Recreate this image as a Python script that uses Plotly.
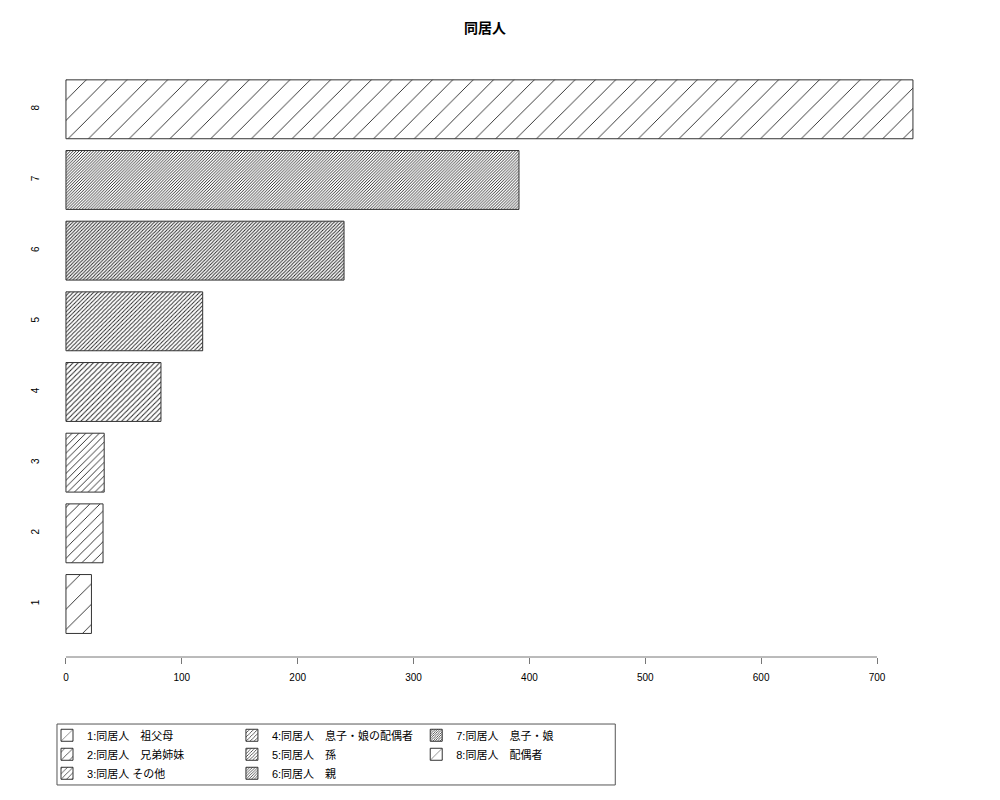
import plotly.graph_objects as go

# data
categories = ['1', '2', '3', '4', '5', '6', '7', '8']
counts = [22, 32, 33, 82, 118, 240, 391, 731]
legend_labels = ['1:同居人　祖父母', '2:同居人　兄弟姉妹', '3:同居人 その他',
                 '4:同居人　息子・娘の配偶者', '5:同居人　孫', '6:同居人　親',
                 '7:同居人　息子・娘', '8:同居人　配偶者']
x_ticks = [0, 100, 200, 300, 400, 500, 600, 700]

# style: hatch density like R's barplot(density=...), recycled
hatch_density = [10, 20, 30, 40, 50, 60, 70, 10]
legend_of = ['legend', 'legend', 'legend', 'legend2', 'legend2', 'legend2', 'legend3', 'legend3']

font_family = 'Liberation Sans, Noto Sans CJK JP, sans-serif'

fig = go.Figure()

for i, cat in enumerate(categories):
    size = 144 / hatch_density[i]
    fig.add_trace(go.Bar(
        y=[cat],
        x=[counts[i]],
        orientation='h',
        name=legend_labels[i],
        legend=legend_of[i],
        marker=dict(
            color='white',
            line=dict(color='#333333', width=1),
            pattern=dict(shape='/', size=size, solidity=min(0.9 / size, 0.6),
                         fgcolor='#222222', bgcolor='white', fillmode='replace'),
        ),
        hoverinfo='x+name',
    ))

# axis line only spans the tick range, like R's axis()
fig.add_shape(type='line', xref='x', yref='paper', x0=x_ticks[0], x1=x_ticks[-1],
              y0=0, y1=0, line=dict(color='#777777', width=1))

# legend frame
fig.add_shape(type='rect', xref='paper', yref='paper', x0=0.010, x1=0.631,
              y0=-0.2133, y1=-0.1117, line=dict(color='#555555', width=1))

legend_common = dict(orientation='v', yanchor='top', xanchor='left',
                     font=dict(size=11, family=font_family, color='black'),
                     bgcolor='rgba(0,0,0,0)', borderwidth=0, traceorder='normal')

fig.update_layout(
    width=1000, height=800,
    barmode='overlay',
    bargap=0.2 / 1.2,
    plot_bgcolor='white',
    paper_bgcolor='white',
    font=dict(family=font_family, size=10, color='black'),
    title=dict(text='<b>同居人</b>', x=0.477, xanchor='center', y=0.975, yanchor='middle',
               font=dict(size=14, family=font_family, color='black')),
    margin=dict(l=40, r=61, t=49, b=151),
    xaxis=dict(range=[-15.5, 760.4], tickvals=x_ticks, ticks='outside', ticklen=6,
               tickcolor='#777777', showline=False, showgrid=False, zeroline=False,
               ticklabelstandoff=5, tickfont=dict(size=10, color='black')),
    yaxis=dict(type='category', categoryorder='array', categoryarray=categories,
               range=[-0.75, 7.74], ticks='', showline=False, showgrid=False,
               zeroline=False, tickangle=-90, ticklabelstandoff=6,
               tickfont=dict(size=10, color='black')),
    legend=dict(x=-0.0011, y=-0.1063, **legend_common),
    legend2=dict(x=0.2046, y=-0.1063, **legend_common),
    legend3=dict(x=0.4096, y=-0.1063, **legend_common),
)

fig.write_html("out.html")
